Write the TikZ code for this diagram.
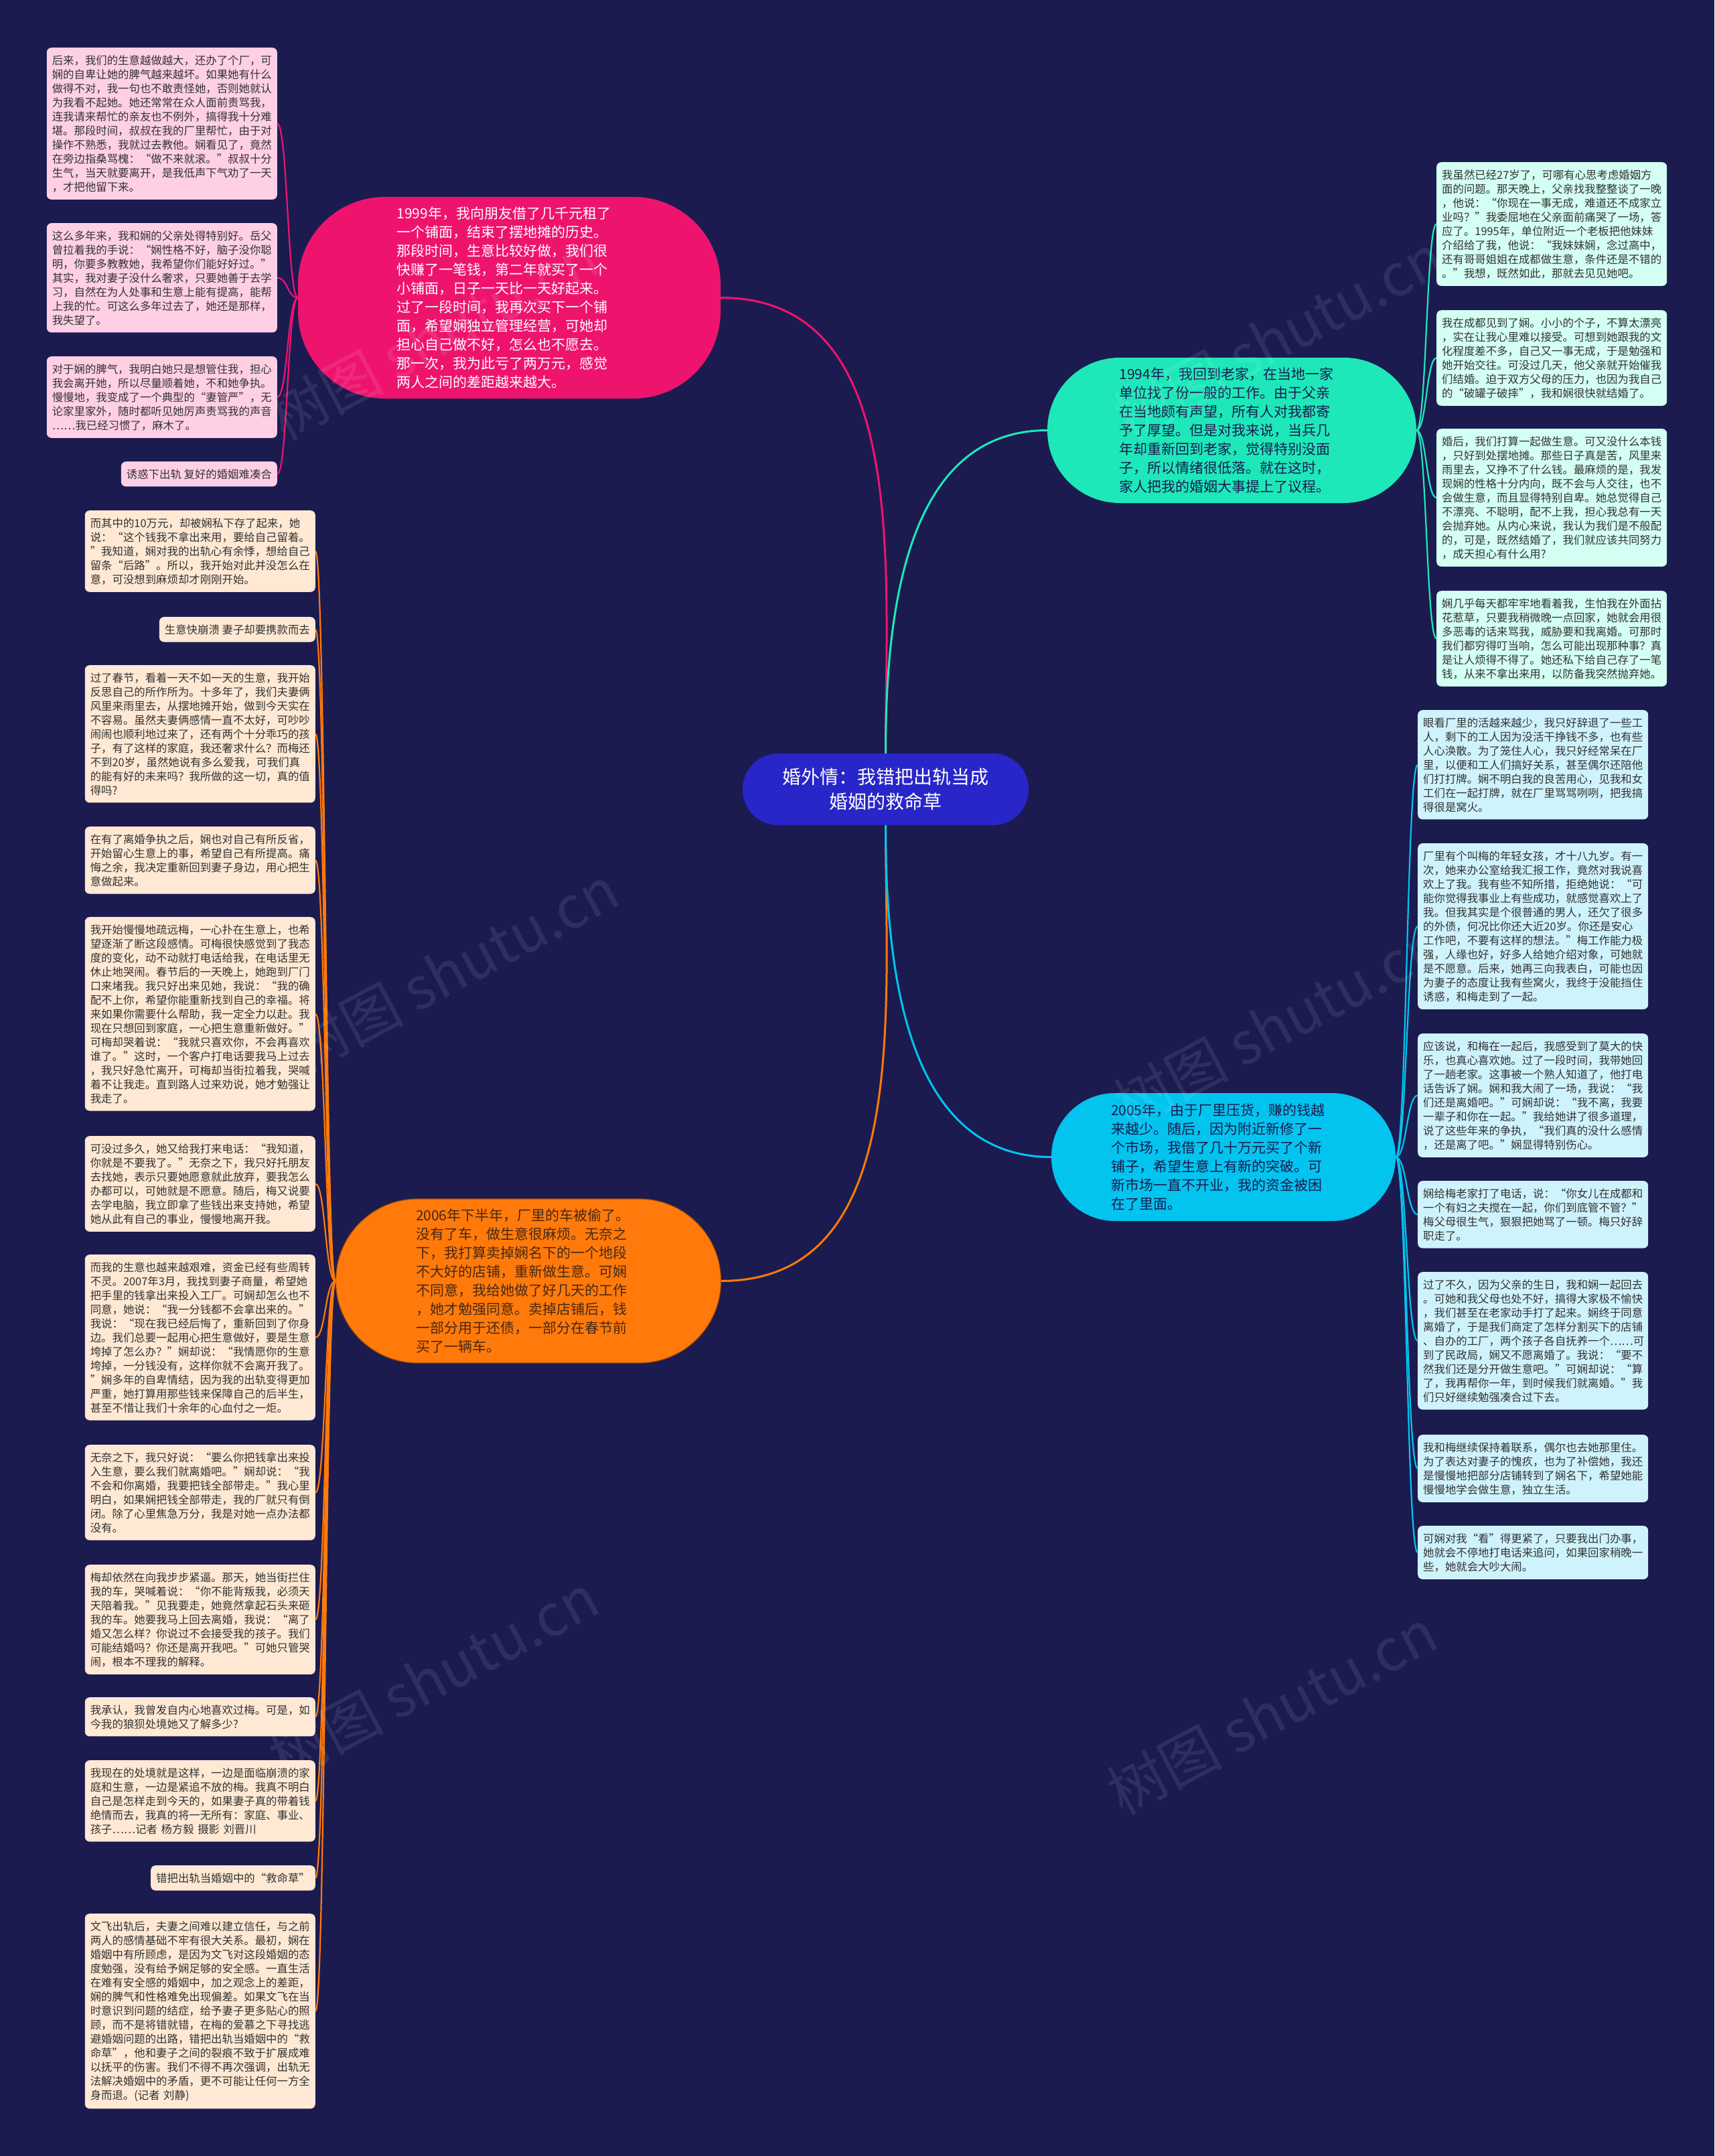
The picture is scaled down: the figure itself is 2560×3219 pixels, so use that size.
\documentclass[tikz,border=0pt]{standalone}
\usepackage{fontspec}
\setmainfont{Noto Sans CJK SC}
\usetikzlibrary{calc}
\definecolor{cBg}{RGB}{27,27,80}
\definecolor{cRoot}{RGB}{40,38,200}
\definecolor{cPink}{RGB}{238,20,110}
\definecolor{cMint}{RGB}{30,232,185}
\definecolor{cSky}{RGB}{3,196,238}
\definecolor{cOrange}{RGB}{255,122,10}
\definecolor{cPinkLeaf}{RGB}{255,208,229}
\definecolor{cMintLeaf}{RGB}{212,255,243}
\definecolor{cSkyLeaf}{RGB}{207,243,253}
\definecolor{cOrangeLeaf}{RGB}{255,233,212}
\definecolor{cLeafText}{RGB}{50,50,50}
\definecolor{cDarkText}{RGB}{27,27,80}
\definecolor{cBrownText}{RGB}{70,40,20}
\newcommand\leaffont{\fontsize{16.4}{21}\selectfont}
\newcommand\branchfont{\fontsize{21}{28}\selectfont}
\newcommand\rootfont{\fontsize{28}{37}\selectfont}
\newcommand\wmfont{\fontsize{86}{90}\selectfont}
\newcommand\lnk[3]{\draw[subline,#1] let \p1=(#2), \p2=(#3) in (\p1) .. controls ({(\x1+\x2)/2},\y1) and ({(\x1+\x2)/2},\y2) .. (\p2);}
\tikzset{
  leafbox/.style={rounded corners=7pt, text width=328pt, inner xsep=8pt, inner ysep=11pt, align=left, font=\leaffont, text=cLeafText},
  leafone/.style={rounded corners=7pt, inner xsep=8pt, inner ysep=11pt, font=\leaffont, text=cLeafText},
  branchnode/.style={text width=336pt, align=left, font=\branchfont, inner sep=0pt},
  mainline/.style={line width=3pt},
  subline/.style={line width=2.2pt},
  wm/.style={font=\wmfont, text=white, opacity=0.09, rotate=28}
}
\begin{document}
\begin{tikzpicture}[x=1pt,y=1pt]
\fill[cBg] (0,0) rectangle (2560,-3219);
\useasboundingbox (0,0) rectangle (2560,-3219);

% root
\node[fill=cRoot, text=white, minimum width=427pt, minimum height=107pt, rounded corners=53pt, align=center, font=\rootfont, inner sep=0pt] (root) at (1322.5,-1178.5) {婚外情：我错把出轨当成\\婚姻的救命草};

% branch nodes
\node[branchnode, fill=cPink, text=white, minimum width=631pt, minimum height=301pt, rounded corners=130pt] (pink) at (760.5,-444.5) {1999年，我向朋友借了几千元租了\\一个铺面，结束了摆地摊的历史。\\那段时间，生意比较好做，我们很\\快赚了一笔钱，第二年就买了一个\\小铺面，日子一天比一天好起来。\\过了一段时间，我再次买下一个铺\\面，希望娴独立管理经营，可她却\\担心自己做不好，怎么也不愿去。\\那一次，我为此亏了两万元，感觉\\两人之间的差距越来越大。};

\node[branchnode, fill=cMint, text=cDarkText, minimum width=551pt, minimum height=217pt, rounded corners=108pt] (mint) at (1839.5,-642.5) {1994年，我回到老家，在当地一家\\单位找了份一般的工作。由于父亲\\在当地颇有声望，所有人对我都寄\\予了厚望。但是对我来说，当兵几\\年却重新回到老家，觉得特别没面\\子，所以情绪很低落。就在这时，\\家人把我的婚姻大事提上了议程。};

\node[branchnode, fill=cSky, text=cDarkText, minimum width=514pt, minimum height=191pt, rounded corners=95pt] (sky) at (1827,-1727.5) {2005年，由于厂里压货，赚的钱越\\来越少。随后，因为附近新修了一\\个市场，我借了几十万元买了个新\\铺子，希望生意上有新的突破。可\\新市场一直不开业，我的资金被困\\在了里面。};

\node[branchnode, fill=cOrange, draw=cOrange!60!black, line width=1.2pt, text=cBrownText, minimum width=575pt, minimum height=245pt, rounded corners=122pt] (orange) at (789,-1912.5) {2006年下半年，厂里的车被偷了。\\没有了车，做生意很麻烦。无奈之\\下，我打算卖掉娴名下的一个地段\\不大好的店铺，重新做生意。可娴\\不同意，我给她做了好几天的工作\\，她才勉强同意。卖掉店铺后，钱\\一部分用于还债，一部分在春节前\\买了一辆车。};

% main connectors
\draw[mainline, cPink] (root.north) to[out=90,in=0] (pink.east);
\draw[mainline, cMint] (root.north) to[out=90,in=180] (mint.west);
\draw[mainline, cOrange] (root.south) to[out=-90,in=0] (orange.east);
\draw[mainline, cSky] (root.south) to[out=-90,in=180] (sky.west);

% pink leaves
\node[leafbox, fill=cPinkLeaf, anchor=north east] (p1) at (414,-71) {后来，我们的生意越做越大，还办了个厂，可\\娴的自卑让她的脾气越来越坏。如果她有什么\\做得不对，我一句也不敢责怪她，否则她就认\\为我看不起她。她还常常在众人面前责骂我，\\连我请来帮忙的亲友也不例外，搞得我十分难\\堪。那段时间，叔叔在我的厂里帮忙，由于对\\操作不熟悉，我就过去教他。娴看见了，竟然\\在旁边指桑骂槐：“做不来就滚。”叔叔十分\\生气，当天就要离开，是我低声下气劝了一天\\，才把他留下来。};
\node[leafbox, fill=cPinkLeaf, anchor=north east] (p2) at (414,-333) {这么多年来，我和娴的父亲处得特别好。岳父\\曾拉着我的手说：“娴性格不好，脑子没你聪\\明，你要多教教她，我希望你们能好好过。”\\其实，我对妻子没什么奢求，只要她善于去学\\习，自然在为人处事和生意上能有提高，能帮\\上我的忙。可这么多年过去了，她还是那样，\\我失望了。};
\node[leafbox, fill=cPinkLeaf, anchor=north east] (p3) at (414,-532) {对于娴的脾气，我明白她只是想管住我，担心\\我会离开她，所以尽量顺着她，不和她争执。\\慢慢地，我变成了一个典型的“妻管严”，无\\论家里家外，随时都听见她厉声责骂我的声音\\……我已经习惯了，麻木了。};
\node[leafone, fill=cPinkLeaf, anchor=north east] (p4) at (414,-689) {诱惑下出轨 复好的婚姻难凑合};

% mint leaves
\node[leafbox, fill=cMintLeaf, anchor=north west] (r1) at (2145,-242) {我虽然已经27岁了，可哪有心思考虑婚姻方\\面的问题。那天晚上，父亲找我整整谈了一晚\\，他说：“你现在一事无成，难道还不成家立\\业吗？”我委屈地在父亲面前痛哭了一场，答\\应了。1995年，单位附近一个老板把他妹妹\\介绍给了我，他说：“我妹妹娴，念过高中，\\还有哥哥姐姐在成都做生意，条件还是不错的\\。”我想，既然如此，那就去见见她吧。};
\node[leafbox, fill=cMintLeaf, anchor=north west] (r2) at (2145,-463) {我在成都见到了娴。小小的个子，不算太漂亮\\，实在让我心里难以接受。可想到她跟我的文\\化程度差不多，自己又一事无成，于是勉强和\\她开始交往。可没过几天，他父亲就开始催我\\们结婚。迫于双方父母的压力，也因为我自己\\的“破罐子破摔”，我和娴很快就结婚了。};
\node[leafbox, fill=cMintLeaf, anchor=north west] (r3) at (2145,-640) {婚后，我们打算一起做生意。可又没什么本钱\\，只好到处摆地摊。那些日子真是苦，风里来\\雨里去，又挣不了什么钱。最麻烦的是，我发\\现娴的性格十分内向，既不会与人交往，也不\\会做生意，而且显得特别自卑。她总觉得自己\\不漂亮、不聪明，配不上我，担心我总有一天\\会抛弃她。从内心来说，我认为我们是不般配\\的，可是，既然结婚了，我们就应该共同努力\\，成天担心有什么用?};
\node[leafbox, fill=cMintLeaf, anchor=north west] (r4) at (2145,-882) {娴几乎每天都牢牢地看着我，生怕我在外面拈\\花惹草，只要我稍微晚一点回家，她就会用很\\多恶毒的话来骂我，威胁要和我离婚。可那时\\我们都穷得叮当响，怎么可能出现那种事？真\\是让人烦得不得了。她还私下给自己存了一笔\\钱，从来不拿出来用，以防备我突然抛弃她。};

% sky leaves
\node[leafbox, fill=cSkyLeaf, anchor=north west] (b1) at (2117,-1060) {眼看厂里的活越来越少，我只好辞退了一些工\\人，剩下的工人因为没活干挣钱不多，也有些\\人心涣散。为了笼住人心，我只好经常呆在厂\\里，以便和工人们搞好关系，甚至偶尔还陪他\\们打打牌。娴不明白我的良苦用心，见我和女\\工们在一起打牌，就在厂里骂骂咧咧，把我搞\\得很是窝火。};
\node[leafbox, fill=cSkyLeaf, anchor=north west] (b2) at (2117,-1259) {厂里有个叫梅的年轻女孩，才十八九岁。有一\\次，她来办公室给我汇报工作，竟然对我说喜\\欢上了我。我有些不知所措，拒绝她说：“可\\能你觉得我事业上有些成功，就感觉喜欢上了\\我。但我其实是个很普通的男人，还欠了很多\\的外债，何况比你还大近20岁。你还是安心\\工作吧，不要有这样的想法。”梅工作能力极\\强，人缘也好，好多人给她介绍对象，可她就\\是不愿意。后来，她再三向我表白，可能也因\\为妻子的态度让我有些窝火，我终于没能挡住\\诱惑，和梅走到了一起。};
\node[leafbox, fill=cSkyLeaf, anchor=north west] (b3) at (2117,-1543) {应该说，和梅在一起后，我感受到了莫大的快\\乐，也真心喜欢她。过了一段时间，我带她回\\了一趟老家。这事被一个熟人知道了，他打电\\话告诉了娴。娴和我大闹了一场，我说：“我\\们还是离婚吧。”可娴却说：“我不离，我要\\一辈子和你在一起。”我给她讲了很多道理，\\说了这些年来的争执，“我们真的没什么感情\\，还是离了吧。”娴显得特别伤心。};
\node[leafbox, fill=cSkyLeaf, anchor=north west] (b4) at (2117,-1763) {娴给梅老家打了电话，说：“你女儿在成都和\\一个有妇之夫搅在一起，你们到底管不管？”\\梅父母很生气，狠狠把她骂了一顿。梅只好辞\\职走了。};
\node[leafbox, fill=cSkyLeaf, anchor=north west] (b5) at (2117,-1899) {过了不久，因为父亲的生日，我和娴一起回去\\。可她和我父母也处不好，搞得大家极不愉快\\，我们甚至在老家动手打了起来。娴终于同意\\离婚了，于是我们商定了怎样分割买下的店铺\\、自办的工厂，两个孩子各自抚养一个……可\\到了民政局，娴又不愿离婚了。我说：“要不\\然我们还是分开做生意吧。”可娴却说：“算\\了，我再帮你一年，到时候我们就离婚。”我\\们只好继续勉强凑合过下去。};
\node[leafbox, fill=cSkyLeaf, anchor=north west] (b6) at (2117,-2142) {我和梅继续保持着联系，偶尔也去她那里住。\\为了表达对妻子的愧疚，也为了补偿她，我还\\是慢慢地把部分店铺转到了娴名下，希望她能\\慢慢地学会做生意，独立生活。};
\node[leafbox, fill=cSkyLeaf, anchor=north west] (b7) at (2117,-2278) {可娴对我“看”得更紧了，只要我出门办事，\\她就会不停地打电话来追问，如果回家稍晚一\\些，她就会大吵大闹。};

% orange leaves
\node[leafbox, fill=cOrangeLeaf, anchor=north east] (o1) at (471,-762) {而其中的10万元，却被娴私下存了起来，她\\说：“这个钱我不拿出来用，要给自己留着。\\”我知道，娴对我的出轨心有余悸，想给自己\\留条“后路”。所以，我开始对此并没怎么在\\意，可没想到麻烦却才刚刚开始。};
\node[leafone, fill=cOrangeLeaf, anchor=north east] (o2) at (471,-921) {生意快崩溃 妻子却要携款而去};
\node[leafbox, fill=cOrangeLeaf, anchor=north east] (o3) at (471,-993) {过了春节，看着一天不如一天的生意，我开始\\反思自己的所作所为。十多年了，我们夫妻俩\\风里来雨里去，从摆地摊开始，做到今天实在\\不容易。虽然夫妻俩感情一直不太好，可吵吵\\闹闹也顺利地过来了，还有两个十分乖巧的孩\\子，有了这样的家庭，我还奢求什么？而梅还\\不到20岁，虽然她说有多么爱我，可我们真\\的能有好的未来吗？我所做的这一切，真的值\\得吗?};
\node[leafbox, fill=cOrangeLeaf, anchor=north east] (o4) at (471,-1234) {在有了离婚争执之后，娴也对自己有所反省，\\开始留心生意上的事，希望自己有所提高。痛\\悔之余，我决定重新回到妻子身边，用心把生\\意做起来。};
\node[leafbox, fill=cOrangeLeaf, anchor=north east] (o5) at (471,-1369) {我开始慢慢地疏远梅，一心扑在生意上，也希\\望逐渐了断这段感情。可梅很快感觉到了我态\\度的变化，动不动就打电话给我，在电话里无\\休止地哭闹。春节后的一天晚上，她跑到厂门\\口来堵我。我只好出来见她，我说：“我的确\\配不上你，希望你能重新找到自己的幸福。将\\来如果你需要什么帮助，我一定全力以赴。我\\现在只想回到家庭，一心把生意重新做好。”\\可梅却哭着说：“我就只喜欢你，不会再喜欢\\谁了。”这时，一个客户打电话要我马上过去\\，我只好急忙离开，可梅却当街拉着我，哭喊\\着不让我走。直到路人过来劝说，她才勉强让\\我走了。};
\node[leafbox, fill=cOrangeLeaf, anchor=north east] (o6) at (471,-1696) {可没过多久，她又给我打来电话：“我知道，\\你就是不要我了。”无奈之下，我只好托朋友\\去找她，表示只要她愿意就此放弃，要我怎么\\办都可以，可她就是不愿意。随后，梅又说要\\去学电脑，我立即拿了些钱出来支持她，希望\\她从此有自己的事业，慢慢地离开我。};
\node[leafbox, fill=cOrangeLeaf, anchor=north east] (o7) at (471,-1873) {而我的生意也越来越艰难，资金已经有些周转\\不灵。2007年3月，我找到妻子商量，希望她\\把手里的钱拿出来投入工厂。可娴却怎么也不\\同意，她说：“我一分钱都不会拿出来的。”\\我说：“现在我已经后悔了，重新回到了你身\\边。我们总要一起用心把生意做好，要是生意\\垮掉了怎么办？”娴却说：“我情愿你的生意\\垮掉，一分钱没有，这样你就不会离开我了。\\”娴多年的自卑情结，因为我的出轨变得更加\\严重，她打算用那些钱来保障自己的后半生，\\甚至不惜让我们十余年的心血付之一炬。};
\node[leafbox, fill=cOrangeLeaf, anchor=north east] (o8) at (471,-2157) {无奈之下，我只好说：“要么你把钱拿出来投\\入生意，要么我们就离婚吧。”娴却说：“我\\不会和你离婚，我要把钱全部带走。”我心里\\明白，如果娴把钱全部带走，我的厂就只有倒\\闭。除了心里焦急万分，我是对她一点办法都\\没有。};
\node[leafbox, fill=cOrangeLeaf, anchor=north east] (o9) at (471,-2336) {梅却依然在向我步步紧逼。那天，她当街拦住\\我的车，哭喊着说：“你不能背叛我，必须天\\天陪着我。”见我要走，她竟然拿起石头来砸\\我的车。她要我马上回去离婚，我说：“离了\\婚又怎么样？你说过不会接受我的孩子。我们\\可能结婚吗？你还是离开我吧。”可她只管哭\\闹，根本不理我的解释。};
\node[leafbox, fill=cOrangeLeaf, anchor=north east] (o10) at (471,-2534) {我承认，我曾发自内心地喜欢过梅。可是，如\\今我的狼狈处境她又了解多少?};
\node[leafbox, fill=cOrangeLeaf, anchor=north east] (o11) at (471,-2628) {我现在的处境就是这样，一边是面临崩溃的家\\庭和生意，一边是紧追不放的梅。我真不明白\\自己是怎样走到今天的，如果妻子真的带着钱\\绝情而去，我真的将一无所有：家庭、事业、\\孩子……记者 杨方毅 摄影 刘晋川};
\node[leafone, fill=cOrangeLeaf, anchor=north east] (o12) at (471,-2785) {错把出轨当婚姻中的“救命草”};
\node[leafbox, fill=cOrangeLeaf, anchor=north east] (o13) at (471,-2857) {文飞出轨后，夫妻之间难以建立信任，与之前\\两人的感情基础不牢有很大关系。最初，娴在\\婚姻中有所顾虑，是因为文飞对这段婚姻的态\\度勉强，没有给予娴足够的安全感。一直生活\\在难有安全感的婚姻中，加之观念上的差距，\\娴的脾气和性格难免出现偏差。如果文飞在当\\时意识到问题的结症，给予妻子更多贴心的照\\顾，而不是将错就错，在梅的爱慕之下寻找逃\\避婚姻问题的出路，错把出轨当婚姻中的“救\\命草”，他和妻子之间的裂痕不致于扩展成难\\以抚平的伤害。我们不得不再次强调，出轨无\\法解决婚姻中的矛盾，更不可能让任何一方全\\身而退。(记者 刘静)};

% leaf connectors
\foreach \nd in {p1,p2,p3,p4}{\lnk{cPink}{pink.west}{\nd.east}}
\foreach \nd in {r1,r2,r3,r4}{\lnk{cMint}{mint.east}{\nd.west}}
\foreach \nd in {b1,b2,b3,b4,b5,b6,b7}{\lnk{cSky}{sky.east}{\nd.west}}
\foreach \nd in {o1,o2,o3,o4,o5,o6,o7,o8,o9,o10,o11,o12,o13}{\lnk{cOrange}{orange.west}{\nd.east}}

% watermarks
\node[wm] (w1) at (647,-503) {树图 shutu.cn};
\node[wm] (w2) at (1909,-503) {树图 shutu.cn};
\node[wm] (w3) at (677,-1447) {树图 shutu.cn};
\node[wm] (w4) at (1909,-1529) {树图 shutu.cn};
\node[wm] (w5) at (647,-2504) {树图 shutu.cn};
\node[wm] (w6) at (1899,-2556) {树图 shutu.cn};
\end{tikzpicture}
\end{document}
